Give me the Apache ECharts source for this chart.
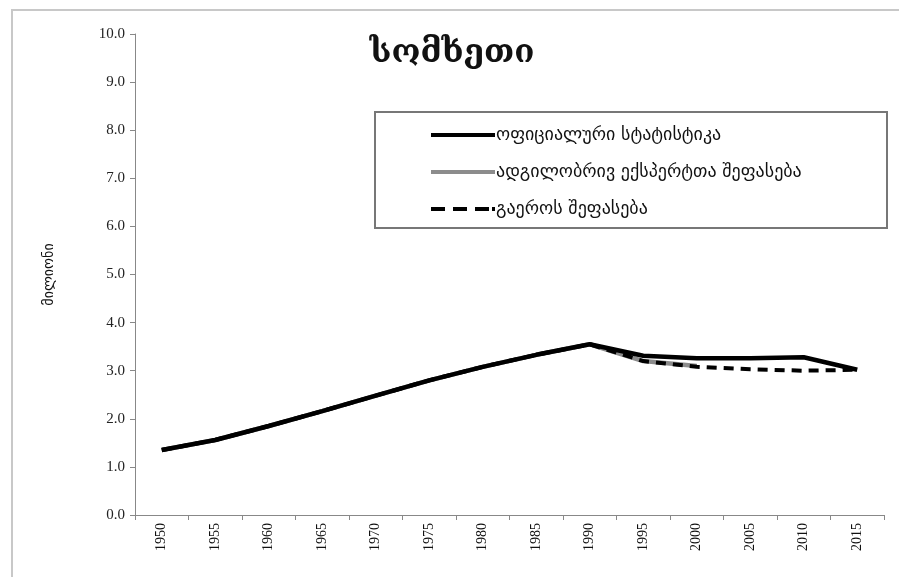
<!DOCTYPE html>
<html><head><meta charset="utf-8">
<script src="https://cdn.jsdelivr.net/npm/echarts@6/dist/echarts.min.js"></script>
<style>html,body{margin:0;padding:0;background:#fff}#c{width:899px;height:577px}</style>
</head><body><div id="c"></div>
<script>
const years = ['1950','1955','1960','1965','1970','1975','1980','1985','1990','1995','2000','2005','2010','2015'];
const official = [1.35,1.56,1.85,2.16,2.48,2.80,3.08,3.33,3.55,3.31,3.26,3.26,3.28,3.02];
const expert   = [1.35,1.56,1.85,2.16,2.48,2.80,3.08,3.33,3.55,3.20,3.10,null,null,null];
const un       = [1.35,1.56,1.85,2.16,2.48,2.80,3.08,3.33,3.55,3.20,3.08,3.03,3.00,3.02];
const names = ['ოფიციალური სტატისტიკა','ადგილობრივ ექსპერტთა შეფასება','გაეროს შეფასება'];
const titleText = 'სომხეთი';
const yName = 'მილიონი';

const solidIcon = 'path://M0,0H64V4H0Z';
const dashIcon = 'path://M0,0H14V4H0Z M22,0H36V4H22Z M44,0H58V4H44Z M61,0H64V4H61Z';

const chart = echarts.init(document.getElementById('c'));
const serif = 'Liberation Serif';
chart.setOption({
  backgroundColor:'#fff',
  animation:false,
  title:{text:titleText,left:447,textAlign:'center',top:32,
    textStyle:{fontFamily:'DejaVu Serif',fontWeight:'bold',fontSize:33,color:'#111'}},
  graphic:[
    {type:'rect',shape:{x:12,y:10,width:900,height:600},style:{fill:'none',stroke:'#c8c8c8',lineWidth:2},silent:true,z:-1},
    {type:'rect',shape:{x:375,y:112,width:512,height:116},style:{fill:'#fff',stroke:'#777',lineWidth:2},silent:true,z:5}
  ],
  legend:{orient:'vertical',left:426,top:121,itemWidth:64,itemHeight:4,itemGap:19,z:10,
    data:[{name:names[0],icon:solidIcon},{name:names[1],icon:solidIcon},{name:names[2],icon:dashIcon}],
    textStyle:{fontFamily:'DejaVu Sans',fontSize:18,color:'#111',padding:[0,0,0,-4]}},
  grid:{left:135,right:15,top:34,bottom:62},
  xAxis:{type:'category',data:years,boundaryGap:true,
    axisLine:{lineStyle:{color:'#888',width:1}},
    axisTick:{show:true,length:5,lineStyle:{color:'#888'}},
    axisLabel:{rotate:90,fontFamily:serif,fontSize:14,color:'#111',margin:8}},
  yAxis:{type:'value',min:0,max:10,interval:1,
    name:yName,nameLocation:'middle',nameGap:79,nameRotate:90,
    nameTextStyle:{fontFamily:'DejaVu Sans',fontSize:14,color:'#111'},
    axisLine:{show:true,lineStyle:{color:'#888',width:1}},
    axisTick:{show:true,length:5,lineStyle:{color:'#888'}},
    splitLine:{show:false},
    axisLabel:{formatter:v=>v.toFixed(1),fontFamily:serif,fontSize:15,color:'#222',margin:10}},
  series:[
    {name:names[0],type:'line',data:official,symbol:'none',z:4,
      lineStyle:{color:'#000',width:4.5},itemStyle:{color:'#000'}},
    {name:names[1],type:'line',data:expert,symbol:'none',z:2,
      lineStyle:{color:'#8c8c8c',width:4.5},itemStyle:{color:'#8c8c8c'}},
    {name:names[2],type:'line',data:un,symbol:'none',z:3,
      lineStyle:{color:'#000',width:4,type:[10,7]},itemStyle:{color:'#000'}}
  ]
});
</script></body></html>
